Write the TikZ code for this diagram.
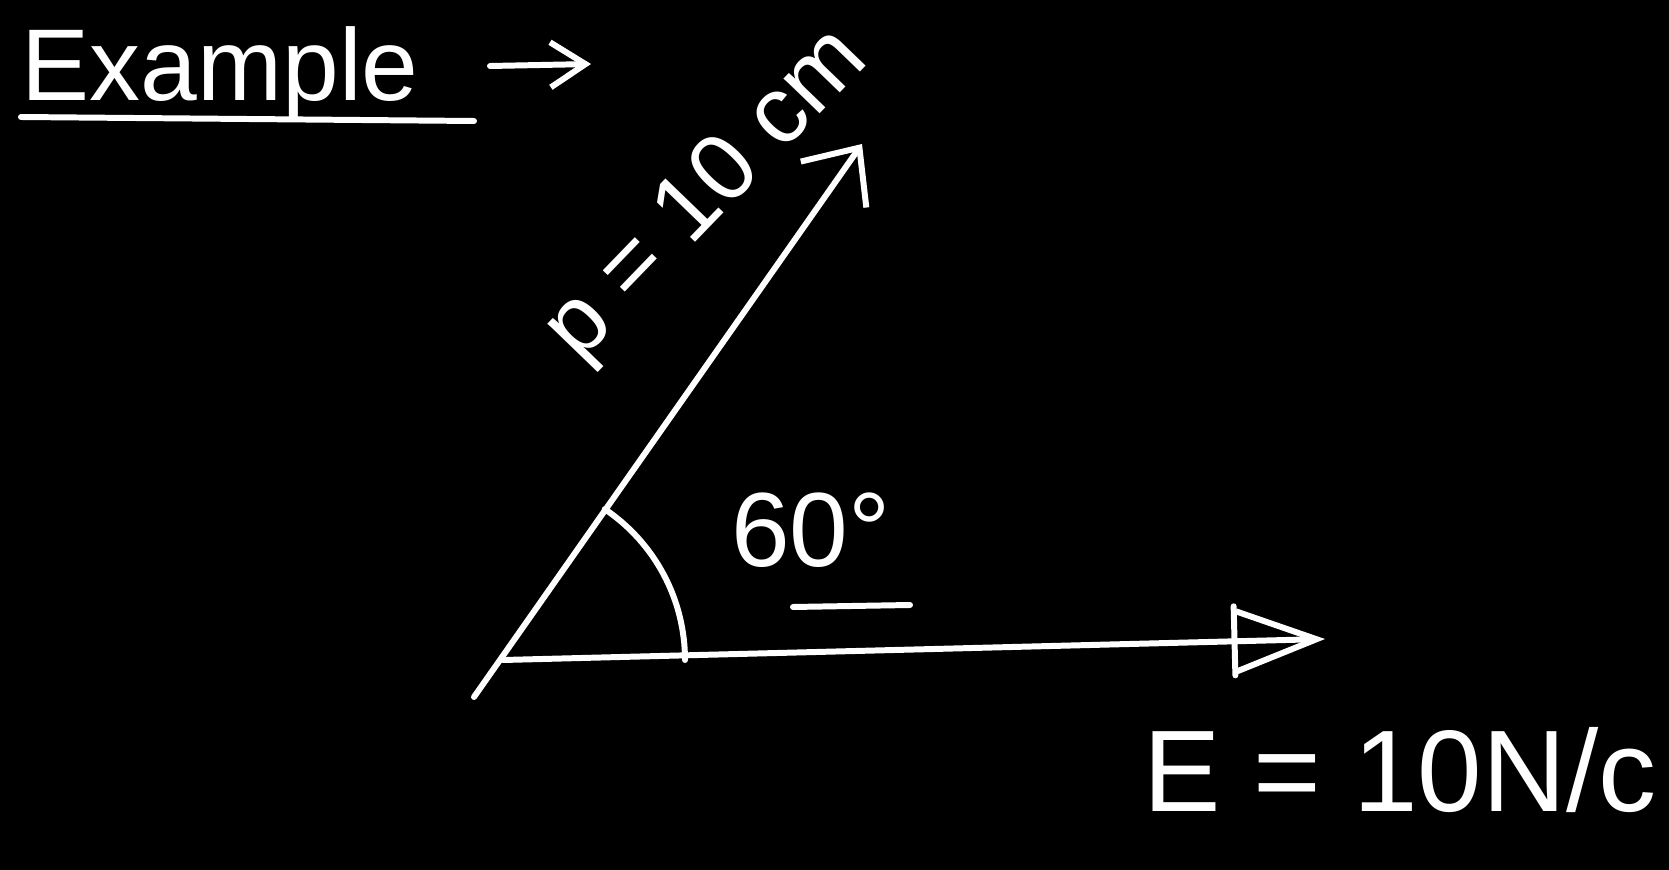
\documentclass[tikz,border=0pt]{standalone}
\usepackage{fontspec}
\setmainfont{Liberation Sans}
\usepackage{tikz}
\usetikzlibrary{positioning,arrows.meta,calc,decorations.markings}
\definecolor{bBoard}{HTML}{000000}
\definecolor{cChalk}{HTML}{FFFFFF}
\tikzset{
  chalk/.style={draw=cChalk, line width=1.7pt, line cap=round},
  hand/.style={text=cChalk, inner sep=0pt, font=\fontsize{#1}{#1}\selectfont},
}

\begin{document}
\begin{tikzpicture}[x=0.01cm,y=-0.01cm]
\useasboundingbox (0,0) rectangle (1669,870);
\fill[bBoard] (0,0) rectangle (1669,870);
\node[hand=29, anchor=base west] (ex) at (21,101) {Example};
\draw[chalk] (21,117) -- (474,121);
\coordinate (exA) at (490,66);
\coordinate (exB) at (591,64);
\draw[chalk, -{Straight Barb[length=3.5mm,width=4.5mm]}] (exA) -- (exB);
\coordinate (O) at (503,660);
\coordinate (pS) at (474,697);
\coordinate (pT) at (862,144);
\coordinate (ET) at (1325,639);
\draw[chalk, -{Straight Barb[length=4.5mm,width=8mm]}] (pS) -- (pT);
\draw[chalk, -{Straight Barb[length=8mm,width=6mm]}, postaction={decorate},
  decoration={markings, mark=at position 0.89 with {\draw[chalk, -] (0,-3.4mm) -- (0,3.5mm);}}] (O) -- (ET);
\draw[chalk] ([shift={(182,0)}]O) arc[start angle=0, end angle=-56, radius=182];
\node[hand=30] (ang) at (811,530) {60°};
\draw[chalk] (793,607) -- (910,605);
\node[hand=27, rotate=46] (plbl) at (708,196) {p = 10 cm};
\node[hand=33] (Elbl) at (1400,770) {E = 10N/c};
\end{tikzpicture}
\end{document}
